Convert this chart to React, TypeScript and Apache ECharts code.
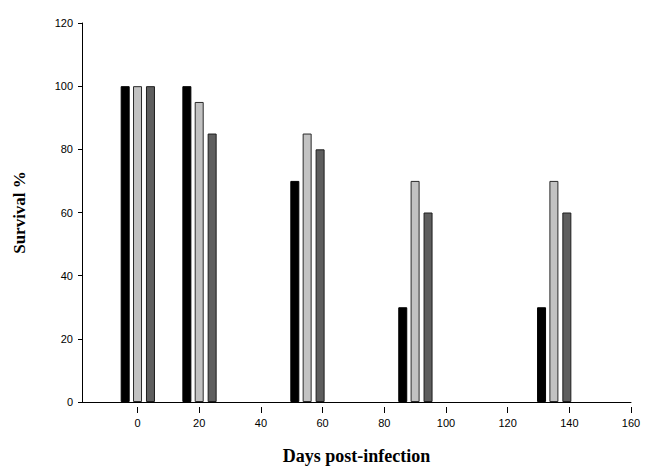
import React, { useEffect, useRef } from "react";
import * as echarts from "echarts";

const days = [0, 20, 55, 90, 135];
const groupA = [100, 100, 70, 30, 30];
const groupB = [100, 95, 85, 70, 70];
const groupC = [100, 85, 80, 60, 60];
const xTicks = [0, 20, 40, 60, 80, 100, 120, 140, 160];

export default function App() {
  const ref = useRef<HTMLDivElement>(null);
  useEffect(() => {
    if (!ref.current) return;
    const chart = echarts.init(ref.current, null, { renderer: "svg" });
    const styles = [
      { color: "#000000", borderColor: "#000000", borderWidth: 1 },
      { color: "#c2c2c2", borderColor: "#2a2a2a", borderWidth: 1 },
      { color: "#5e5e5e", borderColor: "#1e1e1e", borderWidth: 1 },
    ];
    const groups = [groupA, groupB, groupC];
    const offsets = [-4, 0, 4.2];
    const data: any[] = [];
    days.forEach((d, i) => {
      groups.forEach((g, k) => {
        data.push({ value: [d + offsets[k], g[i]], itemStyle: styles[k] });
      });
    });
    const xMin = -18;
    const xMax = 160;
    const gLeft = 82;
    const gRight = 14;
    const plotW = 645 - gLeft - gRight;
    const tickGridLeft = gLeft + ((0 - xMin) / (xMax - xMin)) * plotW;
    const labelFont = { fontFamily: "Liberation Sans", fontSize: 11, color: "#000" };
    chart.setOption({
      animation: false,
      grid: [
        { left: gLeft, right: gRight, top: 23, bottom: 63 },
        { left: tickGridLeft, right: gRight, top: 23, bottom: 63 },
      ],
      xAxis: [
        {
          type: "value",
          gridIndex: 0,
          min: xMin,
          max: xMax,
          splitLine: { show: false },
          axisLine: { show: true, onZero: false, lineStyle: { color: "#000", width: 1 } },
          axisTick: { show: false },
          axisLabel: { ...labelFont, margin: 15, customValues: xTicks },
          name: "Days post-infection",
          nameLocation: "middle",
          nameGap: 45,
          nameTextStyle: { fontFamily: "Liberation Serif", fontWeight: "bold", fontSize: 18, color: "#000" },
        },
        {
          type: "value",
          gridIndex: 1,
          min: 0,
          max: 160,
          interval: 20,
          splitLine: { show: false },
          axisLine: { show: false, onZero: false },
          axisTick: { show: true, length: 6, inside: false, lineStyle: { color: "#000", width: 1 } },
          axisLabel: { show: false },
        },
      ],
      yAxis: [
        {
          type: "value",
          gridIndex: 0,
          min: 0,
          max: 120,
          interval: 20,
          splitLine: { show: false },
          axisLine: { show: true, onZero: false, lineStyle: { color: "#000", width: 1 } },
          axisTick: { show: true, length: 4, lineStyle: { color: "#000" } },
          axisLabel: { ...labelFont, margin: 9 },
          name: "Survival %",
          nameLocation: "middle",
          nameGap: 54,
          nameTextStyle: { fontFamily: "Liberation Serif", fontWeight: "bold", fontSize: 17, color: "#000" },
        },
        {
          type: "value",
          gridIndex: 1,
          min: 0,
          max: 120,
          show: false,
        },
      ],
      series: [
        {
          type: "bar",
          xAxisIndex: 0,
          yAxisIndex: 0,
          barWidth: 9,
          data,
        },
      ],
    });
    return () => chart.dispose();
  }, []);
  return (
    <div
      ref={ref}
      style={{ position: "absolute", left: 0, top: 0, width: 645, height: 470, background: "#fff" }}
    />
  );
}
